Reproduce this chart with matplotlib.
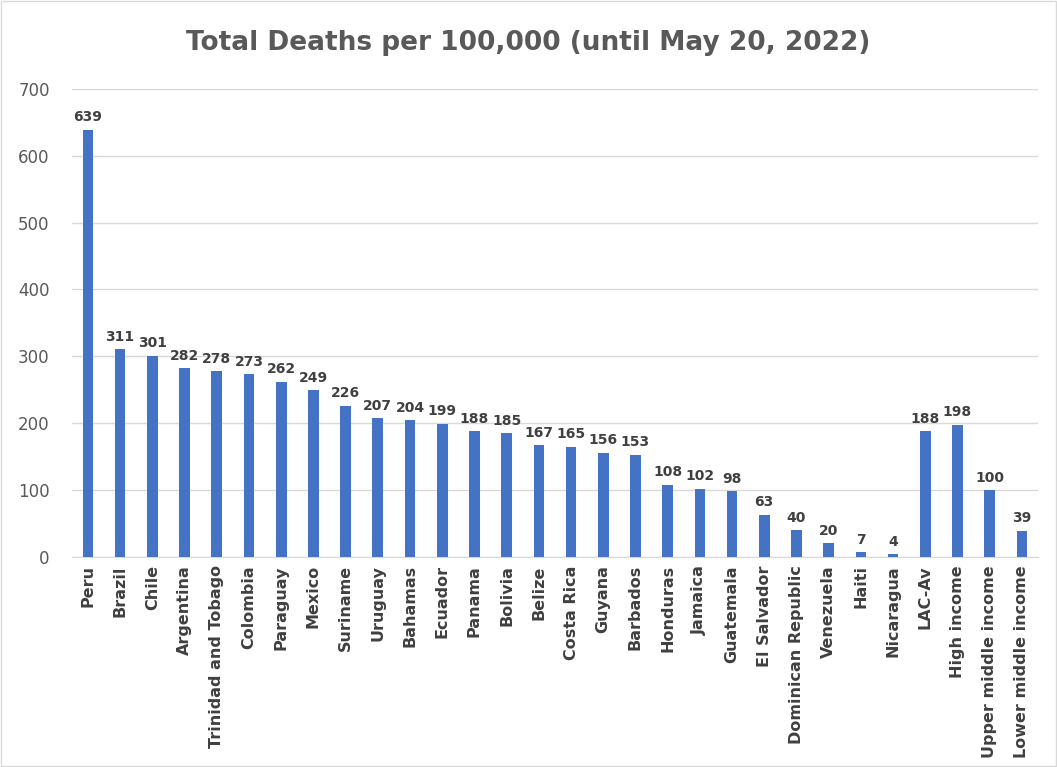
import matplotlib
matplotlib.use('Agg')
import matplotlib.pyplot as plt

# Total deaths per 100,000 until May 20, 2022

countries = ['Peru', 'Brazil', 'Chile', 'Argentina', 'Trinidad and Tobago',
             'Colombia', 'Paraguay', 'Mexico', 'Suriname', 'Uruguay',
             'Bahamas', 'Ecuador', 'Panama', 'Bolivia', 'Belize',
             'Costa Rica', 'Guyana', 'Barbados', 'Honduras', 'Jamaica',
             'Guatemala', 'El Salvador', 'Dominican Republic', 'Venezuela',
             'Haiti', 'Nicaragua', 'LAC-Av', 'High income',
             'Upper middle income', 'Lower middle income']
deaths = [639, 311, 301, 282, 278, 273, 262, 249, 226, 207,
          204, 199, 188, 185, 167, 165, 156, 153, 108, 102,
          98, 63, 40, 20, 7, 4, 188, 198, 100, 39]

yticks = [0, 100, 200, 300, 400, 500, 600, 700]


def main():
    fig = plt.figure(figsize=(10.57, 7.67), dpi=100)
    ax = fig.add_axes([0.068, 0.274, 0.914, 0.61])

    x = range(len(countries))
    ax.bar(x, deaths, width=0.33, color='#4472C4', zorder=3)

    for i, v in zip(x, deaths):
        ax.text(i, v + 8, str(v), ha='center', va='bottom',
                fontsize=10, fontweight='bold', color='#404040')

    ax.set_xlim(-0.5, len(countries) - 0.5)
    ax.set_ylim(0, 700)
    ax.set_yticks(yticks)
    ax.set_yticklabels([str(t) for t in yticks], fontsize=12, color='#595959')
    ax.set_xticks(list(x))
    ax.set_xticklabels(countries, rotation=90, fontsize=11.5,
                       fontweight='bold', color='#404040')
    ax.tick_params(axis='x', length=0, pad=6)
    ax.tick_params(axis='y', length=0, pad=16)
    ax.grid(axis='y', color='#d9d9d9', linewidth=1, zorder=0)
    for side in ['top', 'right', 'left']:
        ax.spines[side].set_visible(False)
    ax.spines['bottom'].set_color('#d9d9d9')

    fig.text(0.5, 0.944, 'Total Deaths per 100,000 (until May 20, 2022)',
             ha='center', va='center', fontsize=19, fontweight='bold',
             color='#595959')

    border = plt.Rectangle((0.001, 0.001), 0.998, 0.998, transform=fig.transFigure,
                           fill=False, edgecolor='#d9d9d9', linewidth=1)
    fig.patches.append(border)

    fig.savefig('out.png', dpi=100)


if __name__ == '__main__':
    main()
